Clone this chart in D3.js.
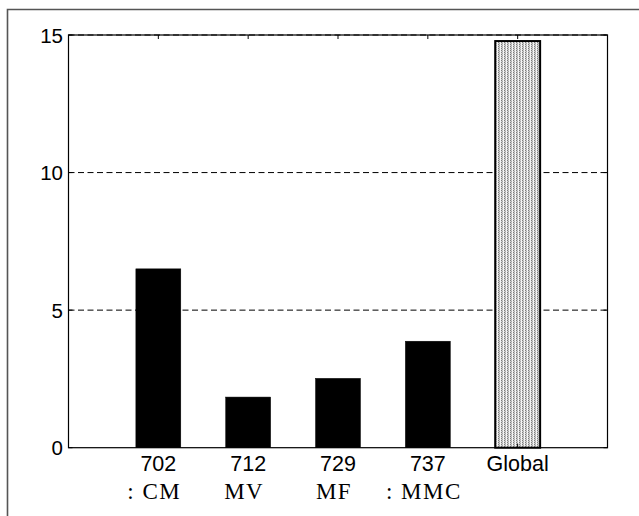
<!DOCTYPE html>
<html>
<head>
<meta charset="utf-8">
<script src="https://cdn.jsdelivr.net/npm/d3@7"></script>
<style>
  html, body { margin: 0; padding: 0; background: #fff; }
  svg { display: block; }
</style>
</head>
<body>
<svg id="chart" width="639" height="516"></svg>
<script>
const categories = ["702", "712", "729", "737", "Global"];
const subLabels = [": CM", "MV", "MF", ": MMC", ""];
const values = [6.5, 1.84, 2.52, 3.87, 14.78];
const yTicks = [0, 5, 10, 15];
const gridTicks = [5, 10, 15];

(function () {
const svg = d3.select("#chart");
const pL = 68.5, pR = 607.5, pT = 35, pB = 447.7;

const x = d3.scaleLinear().domain([0, categories.length + 1]).range([pL, pR]);
const y = d3.scaleLinear().domain([0, 15]).range([pB, pT]);
const barW = x(0.5) - x(0);

// outer frame (left and top only visible)
svg.append("path")
  .attr("d", `M7.5,516 L7.5,9.5 L639,9.5`)
  .attr("fill", "none").attr("stroke", "#555").attr("stroke-width", 1.6);

// pattern for global bar
const defs = svg.append("defs");
const pat = defs.append("pattern").attr("id", "stip")
  .attr("patternUnits", "userSpaceOnUse").attr("width", 3).attr("height", 2);
pat.append("rect").attr("width", 3).attr("height", 2).attr("fill", "#d0d0d0");
pat.append("rect").attr("x", 2).attr("width", 1).attr("height", 2).attr("fill", "#f6f6f6");
pat.append("rect").attr("x", 0).attr("y", 0).attr("width", 1).attr("height", 1).attr("fill", "#7c7c7c");
pat.append("rect").attr("x", 1).attr("y", 1).attr("width", 1).attr("height", 1).attr("fill", "#a8a8a8");

// grid lines
svg.append("g").selectAll("line").data(gridTicks).join("line")
  .attr("x1", pL).attr("x2", pR)
  .attr("y1", d => y(d)).attr("y2", d => y(d))
  .attr("stroke", "#000").attr("stroke-width", 1)
  .attr("stroke-dasharray", "6,3.5");

// bars
svg.append("g").selectAll("rect").data(values).join("rect")
  .attr("x", (d, i) => x(i + 1) - barW / 2)
  .attr("width", barW)
  .attr("y", d => y(d))
  .attr("height", d => y(0) - y(d))
  .attr("fill", (d, i) => categories[i] === "Global" ? "url(#stip)" : "#000")
  .attr("stroke", "#000")
  .attr("stroke-width", (d, i) => categories[i] === "Global" ? 2 : 0.5);

// axes box
svg.append("rect")
  .attr("x", pL).attr("y", pT)
  .attr("width", pR - pL).attr("height", pB - pT)
  .attr("fill", "none").attr("stroke", "#000").attr("stroke-width", 1.2);

// ticks (inward)
const tk = 4;
const xt = d3.range(1, categories.length + 1);
svg.append("g").selectAll("line").data(xt).join("line")
  .attr("x1", d => x(d)).attr("x2", d => x(d))
  .attr("y1", pT).attr("y2", pT + tk).attr("stroke", "#000");
svg.append("g").selectAll("line").data(xt).join("line")
  .attr("x1", d => x(d)).attr("x2", d => x(d))
  .attr("y1", pB).attr("y2", pB - tk).attr("stroke", "#000");
svg.append("g").selectAll("line").data(yTicks).join("line")
  .attr("x1", pL).attr("x2", pL + tk)
  .attr("y1", d => y(d)).attr("y2", d => y(d)).attr("stroke", "#000");
svg.append("g").selectAll("line").data(yTicks).join("line")
  .attr("x1", pR).attr("x2", pR - tk)
  .attr("y1", d => y(d)).attr("y2", d => y(d)).attr("stroke", "#000");

// y tick labels
svg.append("g").selectAll("text").data(yTicks).join("text")
  .attr("x", pL - 5.5)
  .attr("y", d => y(d) + 7.5)
  .attr("text-anchor", "end")
  .attr("font-family", "Liberation Sans, Arial, sans-serif")
  .attr("font-size", 20.5)
  .attr("fill", "#000")
  .text(d => d);

// x tick labels
svg.append("g").selectAll("text").data(categories).join("text")
  .attr("x", (d, i) => x(i + 1))
  .attr("y", 470.5)
  .attr("text-anchor", "middle")
  .attr("font-family", "Liberation Sans, Arial, sans-serif")
  .attr("font-size", 21.5)
  .attr("fill", "#000")
  .text(d => d);

svg.append("g").selectAll("text").data(subLabels).join("text")
  .attr("x", (d, i) => x(i + 1) - 4)
  .attr("y", 499)
  .attr("text-anchor", "middle")
  .attr("font-family", "Liberation Serif, Times New Roman, serif")
  .attr("font-size", 23)
  .attr("letter-spacing", 1.5)
  .attr("fill", "#000")
  .text(d => d);
})();
</script>
</body>
</html>
